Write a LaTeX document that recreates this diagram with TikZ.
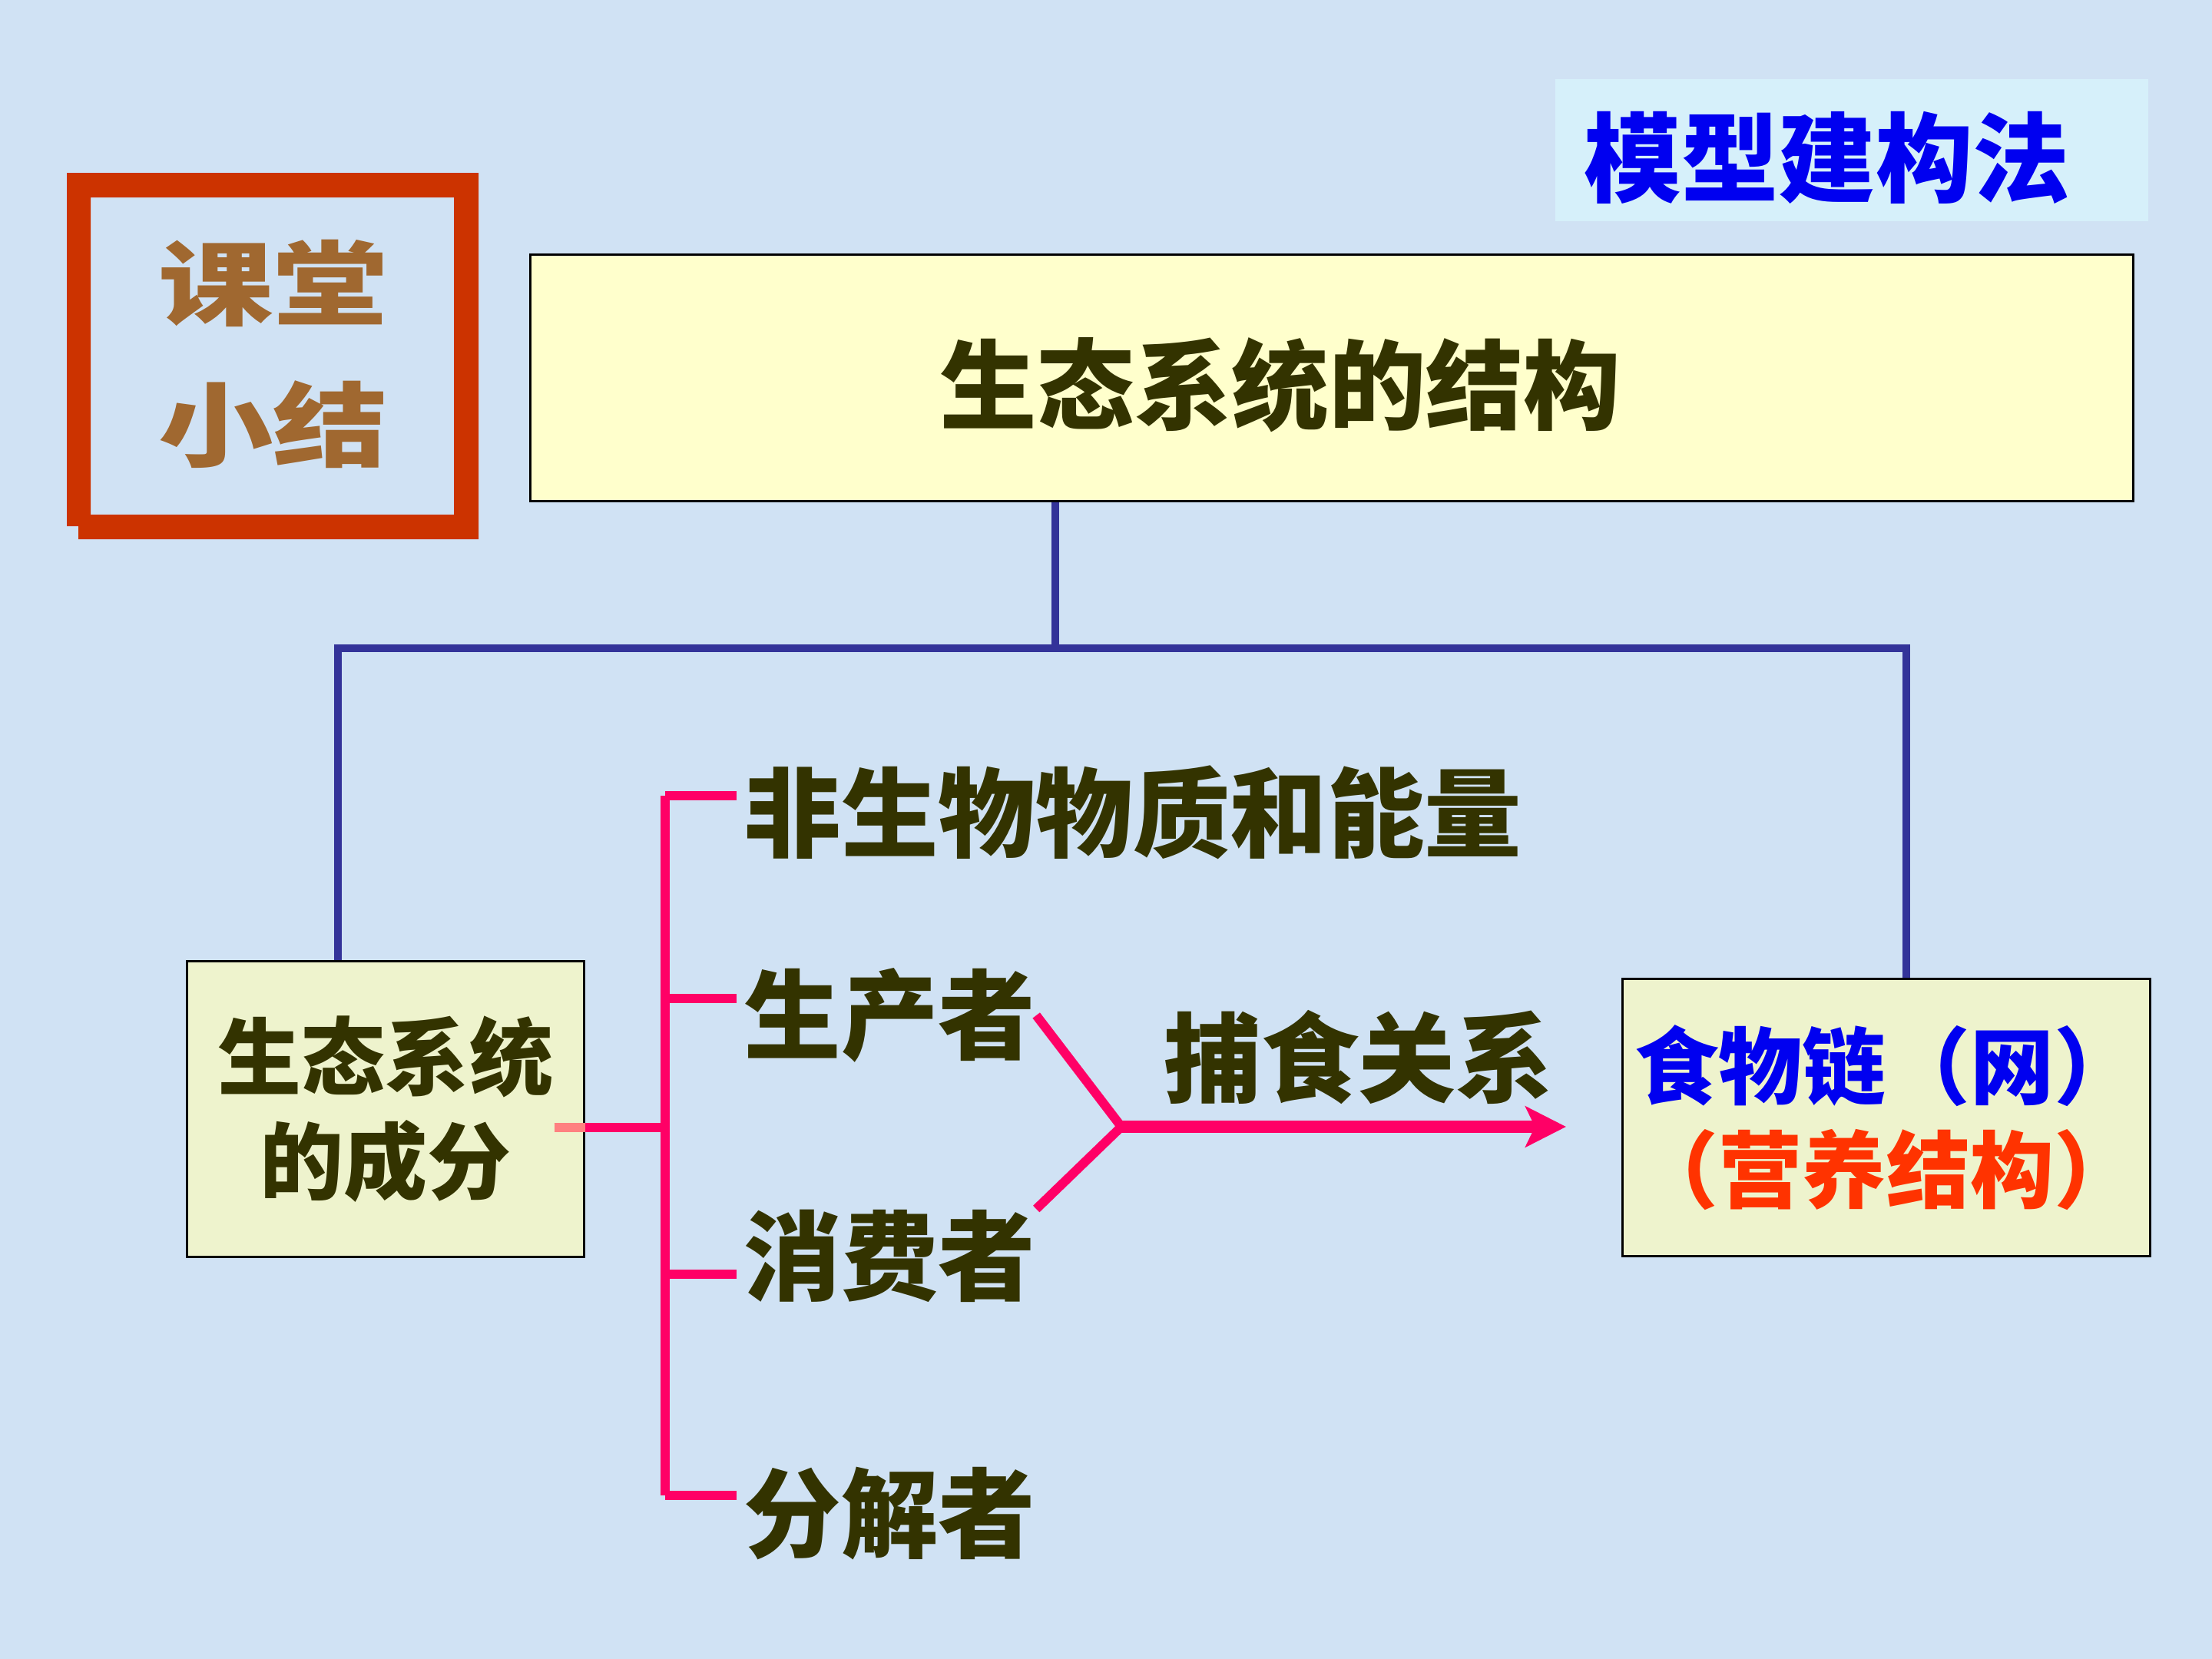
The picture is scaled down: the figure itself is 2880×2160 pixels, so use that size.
\documentclass[tikz,border=0pt]{standalone}
\usepackage{fontspec}
\newfontfamily\cjk{Noto Sans CJK SC}
\usetikzlibrary{arrows.meta}
\definecolor{bgblue}{RGB}{208,226,244}
\definecolor{framered}{RGB}{204,51,0}
\definecolor{browntxt}{RGB}{160,104,48}
\definecolor{darktxt}{RGB}{51,51,0}
\definecolor{bluetxt}{RGB}{0,0,240}
\definecolor{orangetxt}{RGB}{255,51,0}
\definecolor{pinkline}{RGB}{255,0,102}
\definecolor{pinklight}{RGB}{255,128,128}
\definecolor{blueline}{RGB}{51,51,153}
\definecolor{titlefill}{RGB}{255,255,204}
\definecolor{boxfill}{RGB}{238,243,205}
\definecolor{cyanfill}{RGB}{214,240,250}
\tikzset{
  big/.style={font=\cjk\bfseries\fontsize{36}{40}\selectfont},
  mid/.style={font=\cjk\bfseries\fontsize{31}{38.5}\selectfont},
  label/.style={big, text=darktxt, inner sep=0pt, anchor=west},
  boxnode/.style={draw=black, line width=0.9pt, inner sep=0pt},
  bluecon/.style={draw=blueline, line width=3.1pt},
  pinkcon/.style={draw=pinkline, line width=3.4pt},
}
\begin{document}
\begin{tikzpicture}[x=0.01cm, y=-0.01cm]
\useasboundingbox (0,0) rectangle (2880,2160);
\fill[bgblue] (0,0) rectangle (2880,2160);

% red frame
\fill[framered, even odd rule] (87,225) -- (623,225) -- (623,702) -- (102,702) -- (102,685) -- (87,685) -- cycle
  (118,257) rectangle (591,670);
\node[font=\cjk\bfseries\fontsize{34}{38}\selectfont, text=browntxt] (ke) at (356,369) {\scalebox{1.25}[1]{课堂}};
\node[font=\cjk\bfseries\fontsize{34}{38}\selectfont, text=browntxt] (xj) at (356,553) {\scalebox{1.25}[1]{小结}};

% method box
\fill[cyanfill] (2025,103) rectangle (2797,288);
\node[big, text=bluetxt, inner sep=0pt] (method) at (2379,205) {模型建构法};

% title box
\node[boxnode, fill=titlefill, minimum width=20.86cm, minimum height=3.2cm] (title) at (1734,492) {};
\node[big, text=darktxt, inner sep=0pt] (titletext) at (1667,501) {生态系统的结构};

% left and right boxes
\node[boxnode, fill=boxfill, minimum width=5.16cm, minimum height=3.84cm, mid, text=darktxt, align=center] (left) at (502,1444) {生态系统\\的成分};
\node[boxnode, fill=boxfill, minimum width=6.87cm, minimum height=3.61cm, mid, align=center] (right) at (2456,1455) {\textcolor{bluetxt}{食物链（网）}\\\textcolor{orangetxt}{（营养结构）}};

% blue connectors
\coordinate (tj) at (1374,844);
\coordinate (hl) at (440,844);
\coordinate (hr) at (2482,844);
\draw[bluecon] (tj |- title.south) -- (tj);
\draw[bluecon] (hl |- left.north) -- (hl) -- (hr) -- (hr |- right.north);

% labels
\node[label] (l1) at (968,1058) {非生物物质和能量};
\node[label] (l2) at (968,1322) {生产者};
\node[label] (l3) at (968,1635) {消费者};
\node[label] (l4) at (968,1971) {分解者};
\node[label] (rel) at (1515,1376) {捕食关系};

% pink bus
\coordinate (b1) at (866,1036);
\coordinate (b2) at (866,1300);
\coordinate (b3) at (866,1659);
\coordinate (b4) at (866,1947);
\coordinate (bj) at (866,1468);
\draw[pinkcon] (b1) -- (b4);
\draw[pinkcon] (b1) -- ([xshift=-0.09cm]b1 -| l1.west);
\draw[pinkcon] (b2) -- ([xshift=-0.09cm]b2 -| l2.west);
\draw[pinkcon] (b3) -- ([xshift=-0.09cm]b3 -| l3.west);
\draw[pinkcon] (b4) -- ([xshift=-0.09cm]b4 -| l4.west);
\draw[pinkcon] (left.east |- bj) -- (bj);
\draw[draw=pinklight, line width=3.4pt] ([xshift=-0.4cm]left.east |- bj) -- (left.east |- bj);

% fork and arrow
\coordinate (fork) at (1460,1467);
\coordinate (tip) at (2039,1467);
\draw[pinkcon, line join=miter] (l2.east) -- (fork) -- (l3.north east);
\draw[draw=pinkline, line width=4.8pt, -{Stealth[length=15pt, width=15pt, inset=3.5pt]}] (fork) -- (tip);
\end{tikzpicture}
\end{document}
